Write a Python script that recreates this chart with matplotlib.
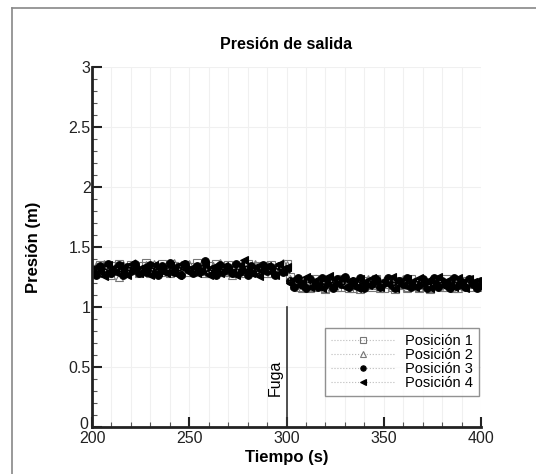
import matplotlib
matplotlib.use('Agg')
import matplotlib.pyplot as plt
from matplotlib.lines import Line2D
from matplotlib.ticker import MultipleLocator
from matplotlib.transforms import ScaledTranslation

plt.rcParams['font.family'] = ['Liberation Sans', 'DejaVu Sans']

# tiempo cada 2 s
tiempo = list(range(200, 401, 2))

pos1 = [1.32, 1.29, 1.35, 1.31, 1.28, 1.34, 1.30, 1.36, 1.32, 1.29,
        1.35, 1.31, 1.28, 1.34, 1.37, 1.30, 1.33, 1.29, 1.36, 1.31,
        1.28, 1.34, 1.32, 1.30, 1.35, 1.29, 1.33, 1.37, 1.31, 1.28,
        1.34, 1.30, 1.36, 1.32, 1.29, 1.35, 1.31, 1.28, 1.33, 1.30,
        1.36, 1.32, 1.29, 1.34, 1.31, 1.28, 1.35, 1.30, 1.33, 1.31, 1.36,
        1.25, 1.20, 1.17, 1.22, 1.19, 1.16, 1.23, 1.18, 1.21, 1.15,
        1.22, 1.19, 1.17, 1.23, 1.20, 1.16, 1.21, 1.18, 1.15, 1.22,
        1.19, 1.17, 1.23, 1.20, 1.16, 1.21, 1.18, 1.15, 1.22, 1.19,
        1.17, 1.23, 1.20, 1.16, 1.21, 1.18, 1.15, 1.22, 1.19, 1.17,
        1.23, 1.20, 1.16, 1.21, 1.18, 1.22, 1.17, 1.20, 1.19, 1.21]

pos2 = [1.30, 1.34, 1.28, 1.36, 1.31, 1.27, 1.33, 1.25, 1.35, 1.30,
        1.32, 1.37, 1.29, 1.31, 1.35, 1.28, 1.36, 1.32, 1.29, 1.34,
        1.30, 1.37, 1.31, 1.28, 1.33, 1.36, 1.29, 1.32, 1.35, 1.30,
        1.28, 1.34, 1.31, 1.37, 1.29, 1.32, 1.27, 1.35, 1.31, 1.28,
        1.34, 1.30, 1.36, 1.29, 1.32, 1.35, 1.28, 1.31, 1.34, 1.37, 1.35,
        1.23, 1.18, 1.21, 1.16, 1.23, 1.19, 1.17, 1.22, 1.20, 1.16,
        1.21, 1.18, 1.23, 1.17, 1.20, 1.22, 1.16, 1.19, 1.21, 1.17,
        1.23, 1.18, 1.20, 1.16, 1.22, 1.19, 1.17, 1.21, 1.18, 1.23,
        1.16, 1.20, 1.22, 1.17, 1.19, 1.21, 1.16, 1.23, 1.18, 1.20,
        1.17, 1.22, 1.19, 1.16, 1.21, 1.18, 1.23, 1.19, 1.17, 1.21]

pos3 = [1.31, 1.27, 1.34, 1.29, 1.36, 1.28, 1.32, 1.35, 1.27, 1.33,
        1.30, 1.36, 1.28, 1.32, 1.29, 1.35, 1.31, 1.27, 1.34, 1.30,
        1.37, 1.29, 1.33, 1.27, 1.36, 1.31, 1.28, 1.34, 1.30, 1.38,
        1.29, 1.32, 1.27, 1.35, 1.30, 1.33, 1.28, 1.36, 1.29, 1.32,
        1.27, 1.34, 1.31, 1.28, 1.35, 1.30, 1.33, 1.27, 1.34, 1.29, 1.32,
        1.22, 1.17, 1.24, 1.19, 1.16, 1.23, 1.20, 1.17, 1.24, 1.18,
        1.21, 1.16, 1.23, 1.19, 1.25, 1.17, 1.22, 1.18, 1.24, 1.16,
        1.21, 1.19, 1.23, 1.17, 1.20, 1.24, 1.18, 1.16, 1.22, 1.19,
        1.24, 1.17, 1.21, 1.18, 1.23, 1.16, 1.20, 1.24, 1.17, 1.22,
        1.19, 1.16, 1.24, 1.18, 1.21, 1.17, 1.23, 1.19, 1.16, 1.22]

pos4 = [1.28, 1.33, 1.30, 1.26, 1.35, 1.31, 1.29, 1.34, 1.30, 1.27,
        1.36, 1.32, 1.28, 1.33, 1.31, 1.27, 1.35, 1.29, 1.32, 1.28,
        1.34, 1.30, 1.27, 1.36, 1.32, 1.29, 1.33, 1.28, 1.31, 1.35,
        1.27, 1.33, 1.30, 1.28, 1.34, 1.31, 1.29, 1.27, 1.35, 1.39,
        1.30, 1.28, 1.33, 1.26, 1.31, 1.34, 1.29, 1.27, 1.36, 1.30, 1.33,
        1.20, 1.23, 1.18, 1.21, 1.25, 1.17, 1.22, 1.19, 1.16, 1.23,
        1.26, 1.18, 1.20, 1.24, 1.17, 1.22, 1.19, 1.16, 1.23, 1.20,
        1.18, 1.24, 1.21, 1.17, 1.22, 1.19, 1.25, 1.16, 1.21, 1.18,
        1.23, 1.20, 1.17, 1.24, 1.19, 1.22, 1.16, 1.21, 1.25, 1.18,
        1.22, 1.19, 1.17, 1.24, 1.20, 1.16, 1.23, 1.21, 1.18, 1.22]

series = [pos1, pos2, pos3, pos4]
labels = ['Posición 1', 'Posición 2', 'Posición 3', 'Posición 4']
markers = ['s', '^', 'o', '<']
faces = ['none', 'none', 'black', 'black']
edges = ['#777777', '#777777', 'black', 'black']

fuga_t = 300
fuga_top = 1.0

fig = plt.figure(figsize=(5.36, 4.74), dpi=100)
ax = fig.add_axes([92/536, 47/474, 389/536, 360/474])

for y, lab, m, fc, ec in zip(series, labels, markers, faces, edges):
    ax.plot(tiempo, y, ls=':', lw=0.8, color='#bbbbbb', marker=m, ms=5.5,
            mfc=fc, mec=ec, mew=0.8, label=lab)

ax.plot([fuga_t, fuga_t], [0, fuga_top], color='#333333', lw=1.2)
ax.text(fuga_t - 2.0, 0.41, 'Fuga', rotation=90, ha='right', va='center', fontsize=11.5)

ax.set_xlim(200, 400)
ax.set_ylim(0, 3)
ax.xaxis.set_major_locator(MultipleLocator(50))
ax.xaxis.set_minor_locator(MultipleLocator(10))
ax.yaxis.set_major_locator(MultipleLocator(0.5))
ax.yaxis.set_minor_locator(MultipleLocator(0.1))
ax.set_yticks([0, 0.5, 1, 1.5, 2, 2.5, 3])
ax.set_yticklabels(['0', '0.5', '1', '1.5', '2', '2.5', '3'])

ax.grid(True, which='both', axis='x', color='#f0f0f0', lw=0.8)
ax.grid(True, which='major', axis='y', color='#f0f0f0', lw=0.8)
ax.set_axisbelow(True)

for s in ['top', 'right']:
    ax.spines[s].set_visible(False)
for s in ['left', 'bottom']:
    ax.spines[s].set_linewidth(2)
    ax.spines[s].set_color('#222222')

ax.tick_params(which='major', direction='in', length=7, width=1.5, labelsize=11.5, colors='#222222')
ax.tick_params(axis='x', which='major', pad=3)
ax.tick_params(axis='y', which='major', pad=1)
ax.tick_params(which='minor', direction='in', length=3.5, width=0.8, colors='#555555')

# subir un poco el "0" para que no pise el "200"
lab0 = ax.get_yticklabels()[0]
lab0.set_transform(lab0.get_transform() + ScaledTranslation(-2/72, 3/72, fig.dpi_scale_trans))

ax.set_title('Presión de salida', fontsize=11.5, fontweight='bold', pad=13)
ax.set_xlabel('Tiempo (s)', fontsize=12, fontweight='bold', labelpad=3)
ax.set_ylabel('Presión (m)', fontsize=12, fontweight='bold', labelpad=20)

leg = ax.legend(loc='upper left', bbox_to_anchor=(325/536, 1 - 328/474),
                bbox_transform=fig.transFigure, fontsize=10.5, frameon=True,
                fancybox=False, edgecolor='#777777', handlelength=4.4,
                handletextpad=0.7, labelspacing=0.0, borderpad=0.4,
                borderaxespad=0, markerscale=0.7)
leg.get_frame().set_linewidth(1.0)

# marco gris de la figura
fig.add_artist(Line2D([12/536, 12/536], [0, 1 - 8/474], color='#888888', lw=1.2, transform=fig.transFigure))
fig.add_artist(Line2D([12/536, 1], [1 - 8/474, 1 - 8/474], color='#888888', lw=1.2, transform=fig.transFigure))

fig.savefig('out.png', dpi=100)
